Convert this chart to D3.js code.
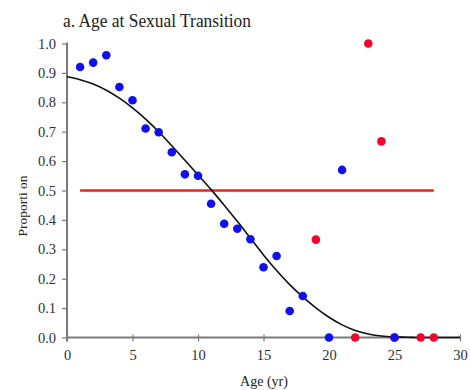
<!DOCTYPE html>
<html><head><meta charset="utf-8">
<script src="https://cdn.jsdelivr.net/npm/d3@7"></script>
<style>body{margin:0;background:#fff}svg{display:block}</style>
</head><body>
<script>
// Data
const blueAges = [1,2,3,4,5,6,7,8,9,10,11,12,13,14,15,16,17,18,20,21,25];
const blueVals = [0.92,0.935,0.96,0.852,0.807,0.711,0.698,0.63,0.555,0.55,0.455,0.387,0.37,0.334,0.239,0.277,0.09,0.141,0,0.57,0];
const redAges = [19,22,23,24,25,27,28];
const redVals = [0.333,0,1.0,0.667,0,0,0];
const curveAges = [0,1,2,3,4,5,6,7,8,9,10,11,12,13,14,15,16,17,18,19,20,21,22,23,24,25,26,27,28,29,30];
const curveVals = [0.887,0.877,0.862,0.841,0.814,0.781,0.743,0.700,0.652,0.603,0.553,0.503,0.450,0.395,0.338,0.281,0.228,0.180,0.138,0.101,0.069,0.043,0.024,0.012,0.005,0.002,0.001,0,0,0,0];
const refLineAges = [1,28];
const refLineVal = 0.5;
const xTicks = [0,5,10,15,20,25,30];
const yTicks = [0,0.1,0.2,0.3,0.4,0.5,0.6,0.7,0.8,0.9,1.0];
const title = "a. Age at Sexual Transition";
const xLabel = "Age (yr)";
const yLabel = "Proporti on";

const W = 470, H = 390;
const svg = d3.select("body").append("svg").attr("width", W).attr("height", H);
const x = d3.scaleLinear().domain([0,30]).range([67,460]);
const y = d3.scaleLinear().domain([0,1]).range([337.5,43.5]);
const serif = "'Liberation Serif','DejaVu Serif',serif";
const axisCol = "#7a7a7a", textCol = "#2e2e3a";

// title
svg.append("text").attr("x", 63).attr("y", 27).attr("font-family", serif)
  .attr("font-size", 18).attr("fill", "#222").attr("textLength", 188).attr("lengthAdjust", "spacingAndGlyphs").text(title);

// y axis
const yAxis = d3.axisLeft(y).tickValues(yTicks).tickFormat(d3.format(".1f")).tickSize(5).tickPadding(6);
const gy = svg.append("g").attr("transform", "translate(67,0)").call(yAxis);
gy.select(".domain").attr("stroke", axisCol).attr("stroke-width", 2).attr("d", `M0,${y(1)-1}V${y(0)+4}`);
gy.selectAll(".tick line").attr("stroke", axisCol).attr("stroke-width", 1.2);
gy.selectAll("text").attr("font-family", serif).attr("font-size", 14.5).attr("fill", textCol);

// x axis
const xAxis = d3.axisBottom(x).tickValues(xTicks).tickSize(4).tickPadding(8);
const gx = svg.append("g").attr("transform", `translate(0,${y(0)})`).call(xAxis);
gx.select(".domain").attr("stroke", axisCol).attr("stroke-width", 2).attr("d", `M${x(0)},0H${x(30)}`);
gx.selectAll(".tick line").attr("stroke", axisCol).attr("stroke-width", 1.2).attr("y1", -3);
gx.selectAll("text").attr("font-family", serif).attr("font-size", 14.5).attr("fill", textCol);

// axis labels
svg.append("text").attr("x", 264).attr("y", 386).attr("text-anchor", "middle")
  .attr("font-family", serif).attr("font-size", 14).attr("fill", "#222").text(xLabel);
svg.append("text").attr("transform", "translate(27,206) rotate(-90)").attr("text-anchor", "middle")
  .attr("font-family", serif).attr("font-size", 13.5).attr("fill", "#222").text(yLabel);

// reference line
svg.append("line").attr("x1", x(refLineAges[0])).attr("x2", x(refLineAges[1]))
  .attr("y1", y(refLineVal)).attr("y2", y(refLineVal))
  .attr("stroke", "#ff1a1a").attr("stroke-width", 2.5);

// fitted curve
const curvePts = curveAges.map((a,i)=>[a, curveVals[i]]);
svg.append("path").datum(curvePts)
  .attr("d", d3.line().x(d=>x(d[0])).y(d=>y(d[1])).curve(d3.curveMonotoneX))
  .attr("fill", "none").attr("stroke", "#111").attr("stroke-width", 1.6);

// red points
svg.append("g").selectAll("circle").data(redAges.map((a,i)=>[a, redVals[i]])).join("circle")
  .attr("cx", d=>x(d[0])).attr("cy", d=>y(d[1])).attr("r", 4.3).attr("fill", "#f5002d");
// blue points
svg.append("g").selectAll("circle").data(blueAges.map((a,i)=>[a, blueVals[i]])).join("circle")
  .attr("cx", d=>x(d[0])).attr("cy", d=>y(d[1])).attr("r", 4.3).attr("fill", "#1010f0");
</script>
</body></html>
